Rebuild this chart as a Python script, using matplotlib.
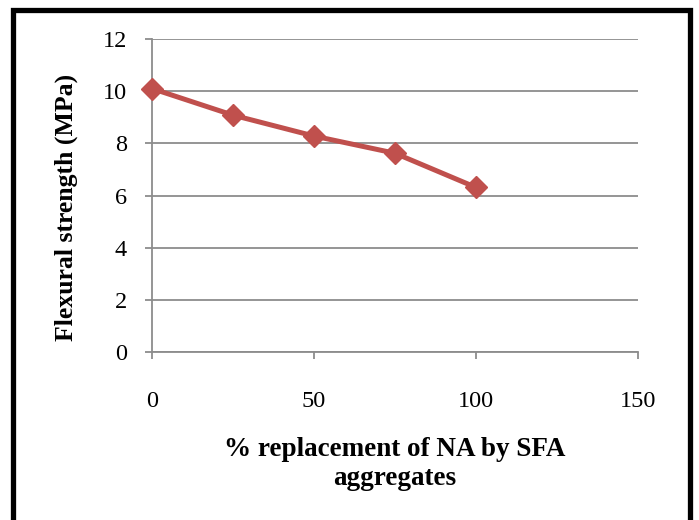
import matplotlib
matplotlib.use("Agg")
import matplotlib.pyplot as plt
from matplotlib.patches import Rectangle

# Data
replacement = [0, 25, 50, 75, 100]
flexural = [10.10, 9.08, 8.28, 7.62, 6.31]
x_ticks = [0, 50, 100, 150]
y_ticks = [0, 2, 4, 6, 8, 10, 12]
x_label = "% replacement of NA by SFA\naggregates"
y_label = "Flexural strength (MPa)"

W, H = 699, 520
fig = plt.figure(figsize=(W / 100, H / 100), dpi=100)
fig.patch.set_facecolor("white")

serif = ["Liberation Serif", "DejaVu Serif"]
grid_c = "#8c8c8c"

ax = fig.add_axes([152 / W, 1 - 352 / H, (638 - 152) / W, (352 - 39) / H])
ax.plot(replacement, flexural, color="#C0504D", lw=3.6, marker="D",
        markersize=11, markerfacecolor="#C0504D", markeredgecolor="#C0504D",
        zorder=3, clip_on=False)
ax.set_xlim(0, 150)
ax.set_ylim(0, 12)
ax.set_xticks(x_ticks)
ax.set_yticks(y_ticks)
ax.yaxis.grid(True, color=grid_c, lw=1.3)
ax.set_axisbelow(True)
for s in ["top", "right"]:
    ax.spines[s].set_visible(False)
for s in ["left", "bottom"]:
    ax.spines[s].set_color(grid_c)
    ax.spines[s].set_linewidth(1.3)
ax.tick_params(axis="both", direction="out", length=5, width=1.3, color=grid_c,
               labelsize=17.5, labelcolor="black")
ax.tick_params(axis="x", pad=23)
ax.tick_params(axis="y", pad=13)
for lab in ax.get_xticklabels() + ax.get_yticklabels():
    lab.set_family(serif)

fig.text(395 / W, 1 - 464 / H, x_label, ha="center", va="center",
         fontsize=19.5, fontweight="bold", family=serif, linespacing=1.2)
fig.text(66 / W, 1 - 207 / H, y_label, ha="center", va="center",
         rotation=90, fontsize=18.5, fontweight="bold", family=serif)

# outer frame
fig.add_artist(Rectangle((13 / W, -0.05), (690 - 13) / W, 1.05 - 9.5 / H,
                         transform=fig.transFigure, fill=False,
                         edgecolor="black", lw=3.8))

fig.savefig("out.png", dpi=100, facecolor="white")
